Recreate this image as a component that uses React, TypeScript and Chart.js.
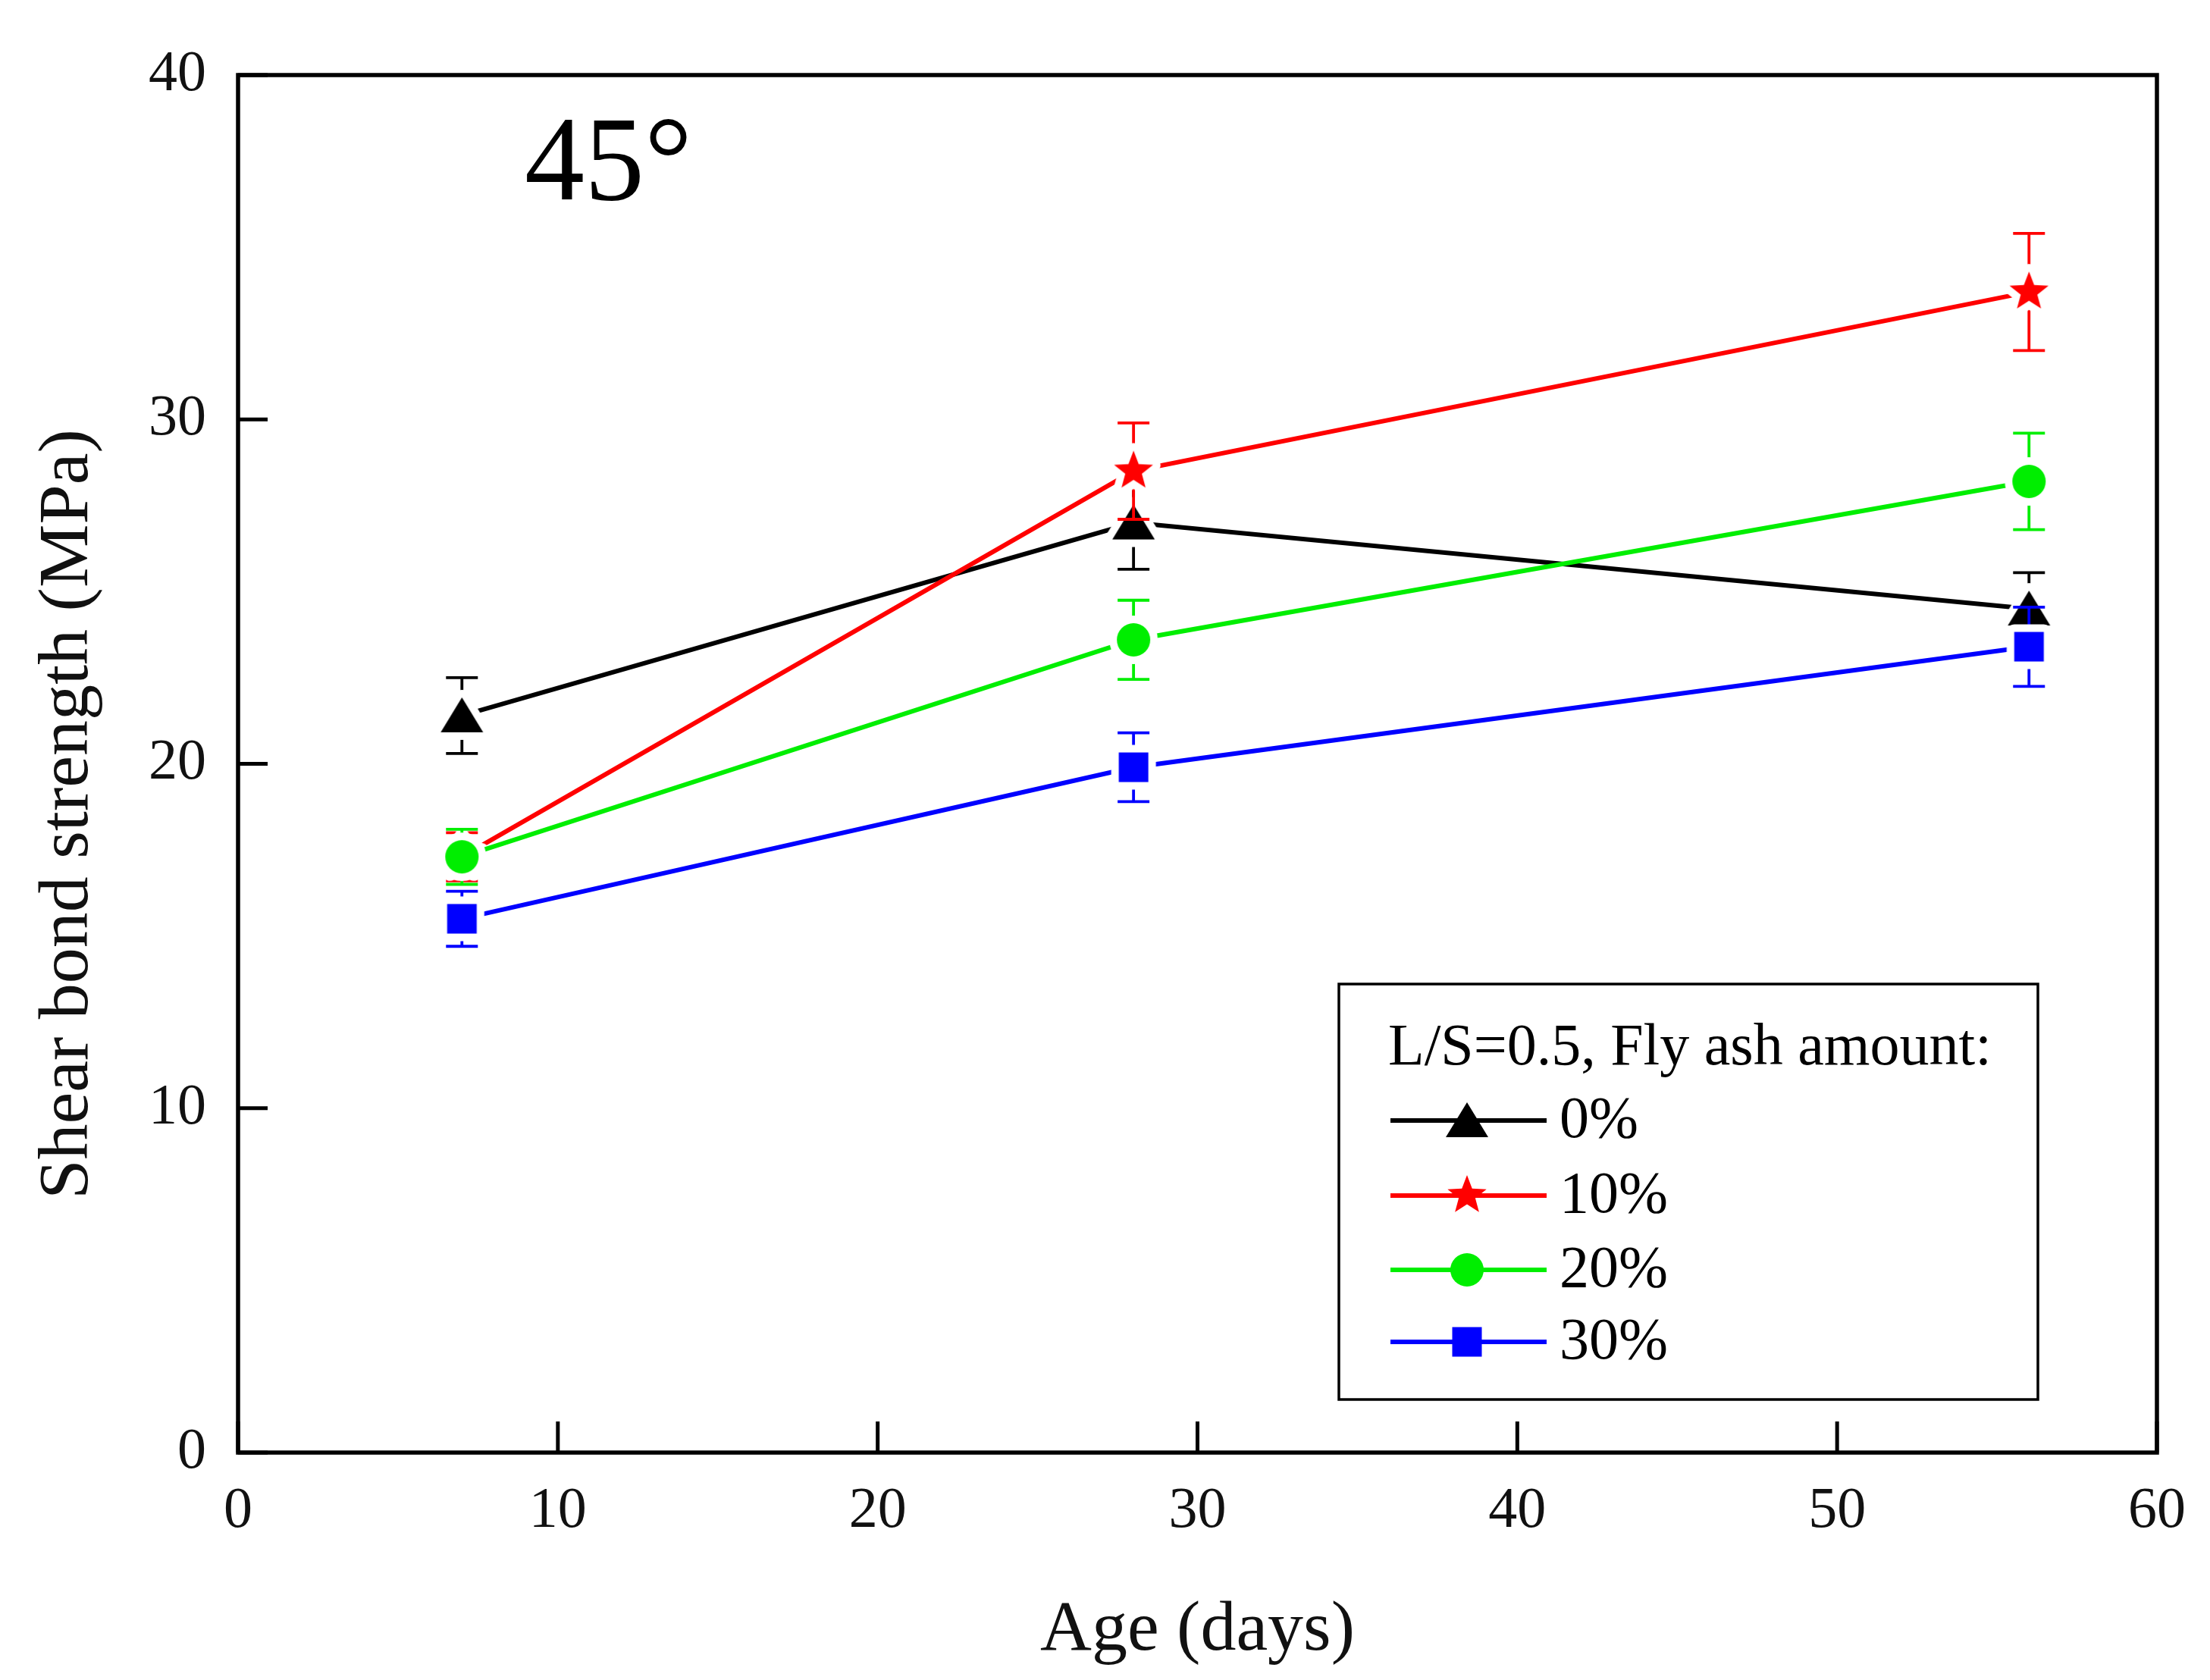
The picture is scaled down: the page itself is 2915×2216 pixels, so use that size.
import { useEffect, useRef } from 'react';
import { Chart, registerables, Plugin } from 'chart.js';

Chart.register(...registerables);

// ---- data ----
const ages = [7, 28, 56];
const seriesLabels = ['0%', '10%', '20%', '30%'];
const strength0 = [21.4, 27.0, 24.5];
const strength10 = [17.3, 28.5, 33.7];
const strength20 = [17.3, 23.6, 28.2];
const strength30 = [15.5, 19.9, 23.4];
const error0 = [1.1, 1.35, 1.05];
const error10 = [0.7, 1.4, 1.7];
const error20 = [0.8, 1.15, 1.4];
const error30 = [0.8, 1.0, 1.15];
const xTickValues = [0, 10, 20, 30, 40, 50, 60];
const yTickValues = [0, 10, 20, 30, 40];

const legendTitle = 'L/S=0.5, Fly ash amount:';
const angleLabel = '45°';
const yTitle = 'Shear bond strength (MPa)';

const strengthSets = [strength0, strength10, strength20, strength30];
const errorSets = [error0, error10, error20, error30];
const colors = ['#000000', '#ff0000', '#00ee00', '#0000ff'];
const shapes = ['triangle', 'star', 'circle', 'square'];

const SERIF = '"Liberation Serif", "Times New Roman", serif';
const W = 2915;
const H = 2216;
const PLOT_BOTTOM = 1916;

function markerPath(g: CanvasRenderingContext2D, shape: string) {
  g.beginPath();
  if (shape === 'triangle') {
    g.moveTo(0, -24);
    g.lineTo(28, 22);
    g.lineTo(-28, 22);
    g.closePath();
  } else if (shape === 'circle') {
    g.arc(0, 0, 22, 0, Math.PI * 2);
  } else if (shape === 'square') {
    g.rect(-19.5, -19.5, 39, 39);
  } else {
    for (let k = 0; k < 10; k++) {
      const a = -Math.PI / 2 + (k * Math.PI) / 5;
      const r = k % 2 === 0 ? 27 : 11.5;
      const px = Math.cos(a) * r;
      const py = Math.sin(a) * r;
      if (k === 0) g.moveTo(px, py);
      else g.lineTo(px, py);
    }
    g.closePath();
  }
}

function makeMarker(shape: string, color: string, halo: number) {
  const size = 66 + halo * 2;
  const c = document.createElement('canvas');
  c.width = size;
  c.height = size;
  const g = c.getContext('2d')!;
  g.translate(size / 2, size / 2);
  markerPath(g, shape);
  if (halo > 0) {
    g.lineWidth = halo * 2;
    g.lineJoin = 'round';
    g.strokeStyle = '#ffffff';
    g.stroke();
  }
  g.fillStyle = color;
  g.fill();
  return c;
}

export default function App() {
  const canvasRef = useRef<HTMLCanvasElement>(null);
  const chartRef = useRef<Chart | null>(null);

  useEffect(() => {
    if (!canvasRef.current) return;
    if (chartRef.current) chartRef.current.destroy();

    const pointImages = shapes.map((s, i) => makeMarker(s, colors[i], 10));
    const legendImages = shapes.map((s, i) => makeMarker(s, colors[i], 0));

    // error bars go under each dataset's own markers so the marker halo cuts them
    const errorBars: Plugin<'line'> = {
      id: 'errorBars',
      beforeDatasetDraw(chart, args) {
        const idx = args.index;
        const yScale = chart.scales.y;
        const ctx = chart.ctx;
        ctx.save();
        ctx.strokeStyle = colors[idx];
        ctx.lineWidth = 3.8;
        args.meta.data.forEach((pt, i) => {
          const v = strengthSets[idx][i];
          const e = errorSets[idx][i];
          const top = yScale.getPixelForValue(v + e);
          const bot = yScale.getPixelForValue(v - e);
          ctx.beginPath();
          ctx.moveTo(pt.x, top);
          ctx.lineTo(pt.x, bot);
          ctx.moveTo(pt.x - 21, top);
          ctx.lineTo(pt.x + 21, top);
          ctx.moveTo(pt.x - 21, bot);
          ctx.lineTo(pt.x + 21, bot);
          ctx.stroke();
        });
        ctx.restore();
      },
    };

    const decorations: Plugin<'line'> = {
      id: 'decorations',
      afterDatasetsDraw(chart) {
        const { ctx, chartArea: a } = chart;
        const xs = chart.scales.x;
        const ys = chart.scales.y;
        ctx.save();

        // frame
        ctx.strokeStyle = '#000';
        ctx.lineWidth = 5.5;
        ctx.strokeRect(a.left, a.top, a.right - a.left, a.bottom - a.top);

        // inward ticks
        ctx.lineWidth = 5;
        ctx.beginPath();
        xs.ticks.forEach((t) => {
          const x = xs.getPixelForValue(t.value);
          ctx.moveTo(x, a.bottom);
          ctx.lineTo(x, a.bottom - 41);
        });
        ys.ticks.forEach((t) => {
          const y = ys.getPixelForValue(t.value);
          ctx.moveTo(a.left, y);
          ctx.lineTo(a.left + 39, y);
        });
        ctx.stroke();

        // y axis title (sits a little below the middle of the axis in the original)
        ctx.fillStyle = '#111';
        ctx.font = `94px ${SERIF}`;
        ctx.textAlign = 'center';
        ctx.textBaseline = 'middle';
        ctx.save();
        ctx.translate(90, 1074);
        ctx.rotate(-Math.PI / 2);
        ctx.fillText(yTitle, 0, 0);
        ctx.restore();

        // angle annotation
        ctx.fillStyle = '#000';
        ctx.font = `158px ${SERIF}`;
        ctx.textAlign = 'left';
        ctx.textBaseline = 'alphabetic';
        ctx.fillText(angleLabel, 692, 263);

        // legend
        const bx = 1766, by = 1298, bw = 922, bh = 548;
        ctx.fillStyle = '#fff';
        ctx.fillRect(bx, by, bw, bh);
        ctx.lineWidth = 3.5;
        ctx.strokeStyle = '#000';
        ctx.strokeRect(bx, by, bw, bh);
        ctx.fillStyle = '#000';
        ctx.font = `78px ${SERIF}`;
        ctx.textBaseline = 'middle';
        ctx.fillText(legendTitle, 1831, 1384);
        const rows = [1478, 1577, 1675, 1770];
        chart.data.datasets.forEach((ds, i) => {
          const y = rows[i];
          ctx.strokeStyle = colors[i];
          ctx.lineWidth = 6;
          ctx.beginPath();
          ctx.moveTo(1834, y);
          ctx.lineTo(2040, y);
          ctx.stroke();
          const img = legendImages[i];
          ctx.drawImage(img, 1935 - img.width / 2, y - img.height / 2);
          ctx.fillStyle = '#000';
          ctx.fillText(String(ds.label), 2057, y + 2);
        });
        ctx.restore();
      },
    };

    chartRef.current = new Chart(canvasRef.current, {
      type: 'line',
      data: {
        datasets: seriesLabels.map((label, i) => ({
          label,
          data: ages.map((x, j) => ({ x, y: strengthSets[i][j] })),
          borderColor: colors[i],
          backgroundColor: colors[i],
          borderWidth: 6,
          pointStyle: pointImages[i],
          pointRadius: 30,
          tension: 0,
          order: 4 - i,
        })),
      },
      options: {
        responsive: true,
        maintainAspectRatio: false,
        animation: false,
        layout: { padding: { top: 99, right: 60, left: 0, bottom: 0 } },
        plugins: { legend: { display: false }, tooltip: { enabled: false } },
        scales: {
          x: {
            type: 'linear',
            min: 0,
            max: 60,
            afterBuildTicks: (s) => {
              s.ticks = xTickValues.map((value) => ({ value }));
            },
            afterFit: (s) => {
              s.height = H - PLOT_BOTTOM;
            },
            grid: { display: false, drawTicks: false },
            border: { display: false },
            ticks: {
              autoSkip: false,
              maxRotation: 0,
              padding: 32,
              color: '#111',
              font: { family: SERIF, size: 76 },
            },
            title: {
              display: true,
              text: 'Age (days)',
              color: '#111',
              font: { family: SERIF, size: 94 },
              padding: { top: 0, bottom: 8 },
            },
          },
          y: {
            min: 0,
            max: 40,
            afterBuildTicks: (s) => {
              s.ticks = yTickValues.map((value) => ({ value }));
            },
            afterFit: (s) => {
              s.width = 314;
            },
            grid: { display: false, drawTicks: false },
            border: { display: false },
            ticks: {
              autoSkip: false,
              padding: 42,
              color: '#111',
              font: { family: SERIF, size: 76 },
            },
          },
        },
      },
      plugins: [errorBars, decorations],
    });

    return () => {
      if (chartRef.current) {
        chartRef.current.destroy();
        chartRef.current = null;
      }
    };
  }, []);

  return (
    <div style={{ position: 'fixed', left: 0, top: 0, width: W, height: H, background: '#fff' }}>
      <canvas ref={canvasRef}></canvas>
    </div>
  );
}
